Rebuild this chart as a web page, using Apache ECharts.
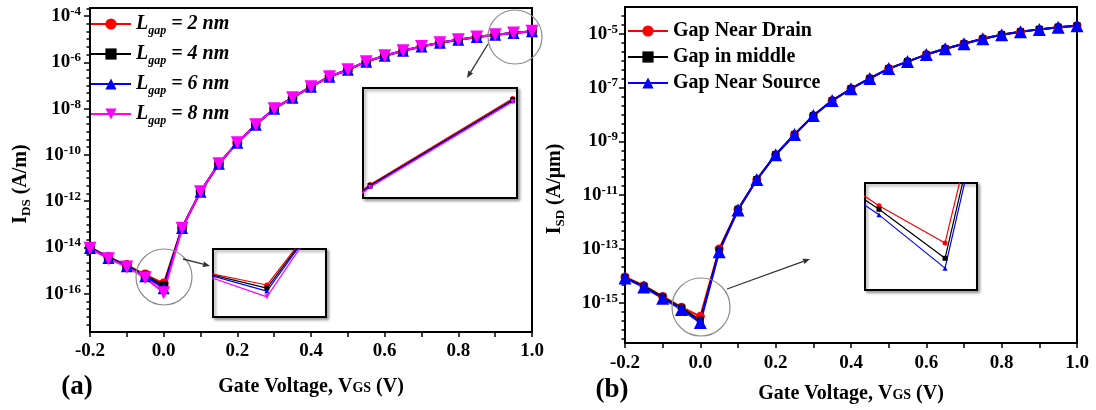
<!DOCTYPE html>
<html>
<head>
<meta charset="utf-8">
<title>Transfer characteristics</title>
<script src="https://cdn.jsdelivr.net/npm/echarts@6/dist/echarts.min.js"></script>
<style>
html, body { margin: 0; padding: 0; background: #fff; }
#chart { width: 1096px; height: 410px; }
</style>
</head>
<body>
<div id="chart"></div>
<script>
// gate voltage sweep (V)
const vgs = [-0.2, -0.15, -0.1, -0.05, 0.0, 0.05, 0.1, 0.15, 0.2, 0.25, 0.3, 0.35, 0.4, 0.45, 0.5,
             0.55, 0.6, 0.65, 0.7, 0.75, 0.8, 0.85, 0.9, 0.95, 1.0];

// (a) IDS (A/m) for each gap length
const gapNames = ['Lgap = 2 nm', 'Lgap = 4 nm', 'Lgap = 6 nm', 'Lgap = 8 nm'];
const idsL2 = [1.05e-14, 3.9e-15, 1.75e-15, 6.8e-16, 2.8e-16, 7.4e-14, 2.6e-12, 4.2e-11, 3.4e-10, 2.0e-9, 1.0e-8, 3.0e-8, 8.9e-8,
               2.4e-7, 4.8e-7, 1.07e-6, 1.95e-6, 3.2e-6, 4.9e-6, 7.0e-6, 9.6e-6, 1.25e-5, 1.55e-5, 1.885e-5, 2.205e-5];
const idsL4 = [1.0e-14, 3.7e-15, 1.65e-15, 6.3e-16, 2.2e-16, 7.2e-14, 2.6e-12, 4.2e-11, 3.4e-10, 2.0e-9, 1.0e-8, 3.0e-8, 8.9e-8,
               2.4e-7, 4.8e-7, 1.07e-6, 1.95e-6, 3.2e-6, 4.9e-6, 7.0e-6, 9.6e-6, 1.25e-5, 1.55e-5, 1.882e-5, 2.2e-5];
const idsL6 = [9.6e-15, 3.5e-15, 1.55e-15, 5.8e-16, 1.75e-16, 7.0e-14, 2.6e-12, 4.2e-11, 3.4e-10, 2.0e-9, 1.0e-8, 3.0e-8, 8.9e-8,
               2.4e-7, 4.8e-7, 1.07e-6, 1.95e-6, 3.2e-6, 4.9e-6, 7.0e-6, 9.6e-6, 1.25e-5, 1.55e-5, 1.879e-5, 2.196e-5];
const idsL8 = [9.2e-15, 3.3e-15, 1.45e-15, 5.0e-16, 1.12e-16, 6.8e-14, 2.6e-12, 4.2e-11, 3.4e-10, 2.0e-9, 1.0e-8, 3.0e-8, 8.9e-8,
               2.4e-7, 4.8e-7, 1.07e-6, 1.95e-6, 3.2e-6, 4.9e-6, 7.0e-6, 9.6e-6, 1.25e-5, 1.55e-5, 1.876e-5, 2.192e-5];

// (b) ISD (A/um) for each gap position
const posNames = ['Gap Near Drain', 'Gap in middle', 'Gap Near Source'];
const isdDrain  = [9.0e-15, 4.3e-15, 1.7e-15, 6.8e-16, 3.1e-16, 1.0e-13, 3.0e-12, 3.8e-11, 3.2e-10, 1.8e-9, 9.1e-9, 3.3e-8, 9.1e-8,
                   2.2e-7, 5.1e-7, 9.3e-7, 1.7e-6, 2.8e-6, 4.3e-6, 6.6e-6, 9.3e-6, 1.2e-5, 1.47e-5, 1.78e-5, 2.0e-5];
const isdMiddle = [8.6e-15, 4.1e-15, 1.6e-15, 6.3e-16, 2.24e-16, 8.9e-14, 2.9e-12, 3.8e-11, 3.2e-10, 1.8e-9, 9.1e-9, 3.3e-8, 9.1e-8,
                   2.2e-7, 5.1e-7, 9.3e-7, 1.7e-6, 2.8e-6, 4.3e-6, 6.6e-6, 9.3e-6, 1.2e-5, 1.47e-5, 1.78e-5, 2.0e-5];
const isdSource = [8.2e-15, 3.8e-15, 1.45e-15, 5.6e-16, 1.82e-16, 7.9e-14, 2.8e-12, 3.8e-11, 3.2e-10, 1.8e-9, 9.1e-9, 3.3e-8, 9.1e-8,
                   2.2e-7, 5.1e-7, 9.3e-7, 1.7e-6, 2.8e-6, 4.3e-6, 6.6e-6, 9.3e-6, 1.2e-5, 1.47e-5, 1.78e-5, 2.0e-5];

// decade exponents that carry a label
const ticksA = [-16, -14, -12, -10, -8, -6, -4];
const ticksB = [-15, -13, -11, -9, -7, -5];

const FONT = '"Liberation Serif", "Times New Roman", serif';
const RED = '#ff0000', BLACK = '#000000', BLUE = '#0000ff', PINK = '#ff00ff';
const DOWN_TRI = 'path://M0,0L10,0L5,9Z';

// y is plotted as log10 of the current
function logPts(ys) {
  return vgs.map((v, i) => [v, Math.log10(ys[i])]);
}

function minorTicks(majors, min, max) {
  const step = majors[1] - majors[0], out = [];
  for (let m = majors[0] - step; m <= majors[majors.length - 1] + step; m += step) {
    for (let k = 1; k < 6; k++) {
      const t = m + k * step / 6;
      if (t > min && t < max) out.push(t);
    }
  }
  return out;
}

function arrow(x1, y1, x2, y2) {
  const a = Math.atan2(y2 - y1, x2 - x1), L = 7, W = 2.8;
  const bx = x2 - L * Math.cos(a), by = y2 - L * Math.sin(a);
  const nx = -Math.sin(a) * W, ny = Math.cos(a) * W;
  return [
    { type: 'line', z: 100, shape: { x1: x1, y1: y1, x2: bx, y2: by }, style: { stroke: '#333', lineWidth: 1.3 } },
    { type: 'polygon', z: 100, shape: { points: [[x2, y2], [bx + nx, by + ny], [bx - nx, by - ny]] }, style: { fill: '#333' } }
  ];
}

const tickLine = { color: '#000', width: 1.5 };

function mainX(grid, margin, nameGap) {
  return {
    type: 'value', gridIndex: grid, min: -0.2, max: 1.0, interval: 0.2,
    name: '{t|Gate Voltage, V}{s|GS}{t| (V)}', nameLocation: 'middle', nameGap: nameGap,
    nameTextStyle: {
      rich: {
        t: { fontFamily: FONT, fontWeight: 'bold', fontSize: 20, color: '#000', lineHeight: 22 },
        s: { fontFamily: FONT, fontWeight: 'bold', fontSize: 14, color: '#000', lineHeight: 22, padding: [2, 0, 0, 0] }
      }
    },
    axisLine: { onZero: false, lineStyle: { color: '#000', width: 2 } },
    axisTick: { length: 5, lineStyle: tickLine },
    minorTick: { show: true, splitNumber: 2, length: 5, lineStyle: tickLine },
    splitLine: { show: false },
    axisLabel: {
      margin: margin, formatter: v => v.toFixed(1),
      fontFamily: FONT, fontWeight: 'bold', fontSize: 19, color: '#000'
    }
  };
}

function mainY(grid, range, ticks, title, margin, nameGap) {
  return {
    type: 'value', gridIndex: grid, position: 'left', min: range[0], max: range[1],
    name: title, nameLocation: 'middle', nameGap: nameGap, nameRotate: 90,
    nameTextStyle: {
      padding: [0, 28, 0, 0],
      rich: {
        n: { fontFamily: FONT, fontWeight: 'bold', fontSize: 20, color: '#000', lineHeight: 24 },
        s: { fontFamily: FONT, fontWeight: 'bold', fontSize: 13, color: '#000', lineHeight: 12, verticalAlign: 'bottom' }
      }
    },
    axisLine: { onZero: false, lineStyle: { color: '#000', width: 2 } },
    axisTick: { customValues: ticks, length: 6, lineStyle: tickLine },
    splitLine: { show: false },
    axisLabel: {
      customValues: ticks, margin: margin,
      formatter: v => '{b|10}{s|' + Math.round(v) + '}',
      rich: {
        b: { fontFamily: FONT, fontWeight: 'bold', fontSize: 19, color: '#000', lineHeight: 22 },
        s: { fontFamily: FONT, fontWeight: 'bold', fontSize: 13, color: '#000', lineHeight: 12, verticalAlign: 'top' }
      }
    }
  };
}

function minorY(grid, range, ticks) {
  return {
    type: 'value', gridIndex: grid, position: 'left', min: range[0], max: range[1],
    axisLine: { show: false, onZero: false },
    axisLabel: { show: false },
    splitLine: { show: false },
    axisTick: { customValues: minorTicks(ticks, range[0], range[1]), length: 3.5, lineStyle: tickLine }
  };
}

function hiddenAxis(grid, min, max) {
  return { type: 'value', gridIndex: grid, min: min, max: max, show: false, axisLine: { onZero: false } };
}

function mainSeries(name, ys, xi, yi, symbol, size, color) {
  return {
    name: name, type: 'line', xAxisIndex: xi, yAxisIndex: yi, data: logPts(ys),
    symbol: symbol, symbolSize: size, showSymbol: true, color: color,
    itemStyle: { color: color }, lineStyle: { color: color, width: 2 }
  };
}

function insetSeries(name, ys, xi, yi, symbol, color) {
  return {
    name: name, type: 'line', xAxisIndex: xi, yAxisIndex: yi, data: logPts(ys), clip: true,
    symbol: symbol, symbolSize: 5, showSymbol: true, color: color,
    itemStyle: { color: color }, lineStyle: { color: color, width: 1.2 }
  };
}

const rangeA = [-17.65, -3.65];
const rangeB = [-16.5, -4];

const insetGrid = {
  show: true, backgroundColor: '#fff', borderColor: '#000', borderWidth: 2,
  shadowColor: 'rgba(0,0,0,0.35)', shadowBlur: 3, shadowOffsetX: 2, shadowOffsetY: 2,
  outerBoundsMode: 'none'
};

const chart = echarts.init(document.getElementById('chart'));

chart.setOption({
  animation: false,
  backgroundColor: '#fff',
  grid: [
    { left: 90, top: 8, width: 442, height: 324, show: true, borderColor: '#000', borderWidth: 2, outerBoundsMode: 'none' },
    Object.assign({ left: 213, top: 249, width: 113, height: 68 }, insetGrid),
    Object.assign({ left: 363, top: 88, width: 154, height: 110 }, insetGrid),
    { left: 625, top: 7, width: 452, height: 336, show: true, borderColor: '#000', borderWidth: 2, outerBoundsMode: 'none' },
    Object.assign({ left: 865, top: 183, width: 112, height: 107 }, insetGrid)
  ],
  xAxis: [
    mainX(0, 10, 44),
    hiddenAxis(1, -0.048, 0.0527),
    hiddenAxis(2, 0.9475, 1.0015),
    mainX(3, 11, 40),
    hiddenAxis(4, -0.0606, 0.0242)
  ],
  yAxis: [
    mainY(0, rangeA, ticksA, '{n|I}{s|DS}{n| (A/m)}', 9, 57),
    minorY(0, rangeA, ticksA),
    hiddenAxis(1, -16.63, -14.34),
    hiddenAxis(2, -4.7353, -4.6482),
    mainY(3, rangeB, ticksB, '{n|I}{s|SD}{n| (A/\u03bcm)}', 7, 58),
    minorY(3, rangeB, ticksB),
    hiddenAxis(4, -15.94, -14.96)
  ],
  legend: [
    {
      data: gapNames, left: 90, top: 14, orient: 'vertical', padding: 0,
      itemWidth: 40, itemHeight: 14, itemGap: 7, selectedMode: false,
      formatter: name => '{i|L}{g|gap}{i| = ' + name.slice(7) + '}',
      textStyle: {
        rich: {
          i: { fontFamily: FONT, fontStyle: 'italic', fontWeight: 'bold', fontSize: 20, color: '#000', lineHeight: 26 },
          g: { fontFamily: FONT, fontStyle: 'italic', fontWeight: 'bold', fontSize: 12, color: '#000', lineHeight: 10, verticalAlign: 'bottom' }
        }
      }
    },
    {
      data: posNames, left: 627, top: 20, orient: 'vertical', padding: 0,
      itemWidth: 40, itemHeight: 14, itemGap: 4, selectedMode: false,
      textStyle: { fontFamily: FONT, fontWeight: 'bold', fontSize: 20, color: '#000', lineHeight: 22 }
    }
  ],
  series: [
    mainSeries(gapNames[0], idsL2, 0, 0, 'circle', 10, RED),
    mainSeries(gapNames[1], idsL4, 0, 0, 'rect', 9, BLACK),
    mainSeries(gapNames[2], idsL6, 0, 0, 'triangle', 12, BLUE),
    mainSeries(gapNames[3], idsL8, 0, 0, DOWN_TRI, 13, PINK),

    insetSeries('a1-2', idsL2, 1, 2, 'circle', RED),
    insetSeries('a1-4', idsL4, 1, 2, 'rect', BLACK),
    insetSeries('a1-6', idsL6, 1, 2, 'triangle', BLUE),
    insetSeries('a1-8', idsL8, 1, 2, DOWN_TRI, PINK),

    insetSeries('a2-2', idsL2, 2, 3, 'circle', RED),
    insetSeries('a2-4', idsL4, 2, 3, 'rect', BLACK),
    insetSeries('a2-6', idsL6, 2, 3, 'triangle', BLUE),
    insetSeries('a2-8', idsL8, 2, 3, DOWN_TRI, PINK),

    mainSeries(posNames[0], isdDrain, 3, 4, 'circle', 9, RED),
    mainSeries(posNames[1], isdMiddle, 3, 4, 'rect', 7, BLACK),
    mainSeries(posNames[2], isdSource, 3, 4, 'triangle', 13, BLUE),

    insetSeries('b-d', isdDrain, 4, 6, 'circle', RED),
    insetSeries('b-m', isdMiddle, 4, 6, 'rect', BLACK),
    insetSeries('b-s', isdSource, 4, 6, 'triangle', BLUE)
  ],
  graphic: [
    // zoom circles and pointers
    { type: 'circle', z: 100, shape: { cx: 164, cy: 277, r: 28 }, style: { fill: 'none', stroke: '#8c8c8c', lineWidth: 1.2 } },
    { type: 'circle', z: 100, shape: { cx: 515, cy: 37, r: 27 }, style: { fill: 'none', stroke: '#8c8c8c', lineWidth: 1.2 } },
    { type: 'circle', z: 100, shape: { cx: 701, cy: 307, r: 29 }, style: { fill: 'none', stroke: '#8c8c8c', lineWidth: 1.2 } },
    ...arrow(183, 259, 210, 266),
    ...arrow(488, 44, 467, 78),
    ...arrow(727, 289, 810, 259),
    // panel letters
    { type: 'text', x: 77, y: 387, style: { text: '(a)', font: 'bold 27px ' + FONT, fill: '#000', align: 'center', verticalAlign: 'middle' } },
    { type: 'text', x: 612, y: 390, style: { text: '(b)', font: 'bold 27px ' + FONT, fill: '#000', align: 'center', verticalAlign: 'middle' } }
  ]
});
</script>
</body>
</html>
